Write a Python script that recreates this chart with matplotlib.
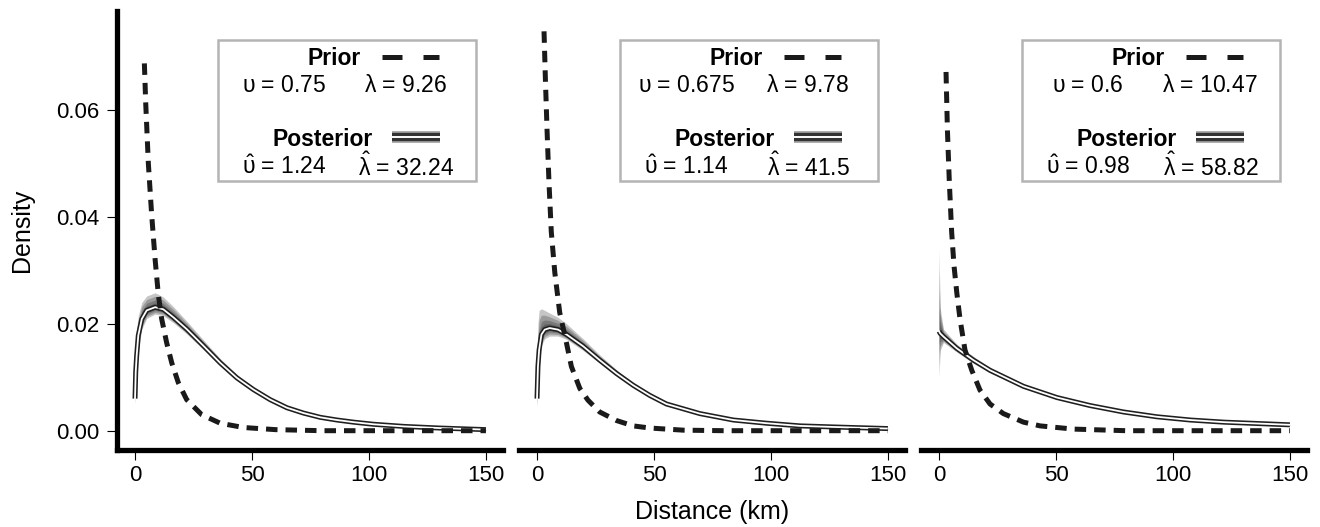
import matplotlib
matplotlib.use('Agg')
import matplotlib.pyplot as plt
from matplotlib.lines import Line2D
import numpy as np

plt.rcParams['font.family'] = ['Liberation Sans', 'DejaVu Sans']
plt.rcParams['mathtext.default'] = 'regular'

# ---- values ----
# prior densities (dashed)
prior1_x = [4.0, 4.6, 5.7, 7.1, 8.6, 10.0, 11.4, 13.5, 15.7, 18.5, 22.1, 28.5, 36.4, 46.3, 60, 80, 100, 125, 150]
prior1_y = [0.0687, 0.0610, 0.0500, 0.0405, 0.0320, 0.0253, 0.0209, 0.0165, 0.0127, 0.0090, 0.0058, 0.0030,
            0.0014, 0.0006, 0.0002, 0.0, 0.0, 0.0, 0.0]
prior2_x = [3.0, 3.6, 4.3, 5.1, 6.1, 7.6, 9.7, 12.6, 14.7, 18.3, 21.8, 26.8, 34, 41.1, 48.2, 62.5, 80, 100, 125, 150]
prior2_y = [0.0747, 0.0655, 0.0561, 0.0466, 0.0372, 0.0296, 0.0221, 0.0164, 0.0120, 0.0079, 0.0057, 0.0035,
            0.0019, 0.0009, 0.0005, 0.0001, 0.0, 0.0, 0.0, 0.0]
prior3_x = [3.0, 3.6, 4.4, 5.4, 6.4, 7.6, 9.0, 11.1, 14.0, 17.5, 21.8, 27.5, 36.1, 43.2, 57.5, 80, 100, 125, 150]
prior3_y = [0.0671, 0.0561, 0.0466, 0.0372, 0.0309, 0.0258, 0.0208, 0.0151, 0.0113, 0.0076, 0.0050, 0.0032,
            0.0016, 0.0009, 0.0003, 0.0, 0.0, 0.0, 0.0]

# posterior mean curves (white line) and spread of the posterior draws
post1_x = [0, 0.3, 0.7, 1.4, 2.9, 5.0, 8.6, 12.1, 16.4, 22.1, 29.2, 36.4, 43.5, 50.6, 57.8, 64.9, 72.0, 79.2,
           86.3, 93.4, 102, 115, 130, 150]
post1_y = [0.0060, 0.0110, 0.0140, 0.0178, 0.0209, 0.0225, 0.0231, 0.0227, 0.0212, 0.0190, 0.0159, 0.0127,
           0.0099, 0.0077, 0.0058, 0.0043, 0.0033, 0.0025, 0.0020, 0.0016, 0.0012, 0.0008, 0.0005, 0.0002]
post1_hi = [0.0100, 0.0150, 0.0190, 0.0215, 0.0240, 0.0252, 0.0258, 0.0250, 0.0232, 0.0205, 0.0170, 0.0135,
            0.0105, 0.0081, 0.0061, 0.0045, 0.0034, 0.0026, 0.0021, 0.0017, 0.0013, 0.0009, 0.0006, 0.0003]
post1_lo = [0.0050, 0.0080, 0.0110, 0.0150, 0.0190, 0.0210, 0.0218, 0.0215, 0.0202, 0.0181, 0.0152, 0.0121,
            0.0094, 0.0073, 0.0055, 0.0041, 0.0032, 0.0024, 0.0019, 0.0015, 0.0011, 0.0007, 0.0004, 0.0001]

post2_x = [0, 0.4, 0.9, 1.9, 3.3, 5.4, 9.0, 12.6, 19.7, 26.8, 34, 41.1, 48.2, 55.3, 69.6, 83.9, 98.1, 112.4,
           126.7, 150]
post2_y = [0.0060, 0.0120, 0.0151, 0.0180, 0.0189, 0.0192, 0.0189, 0.0180, 0.0158, 0.0132, 0.0107, 0.0085,
           0.0066, 0.0050, 0.0032, 0.0020, 0.0014, 0.0009, 0.0007, 0.0004]
post2_hi = [0.0100, 0.0200, 0.0225, 0.0228, 0.0225, 0.0220, 0.0212, 0.0200, 0.0172, 0.0142, 0.0114, 0.0090,
            0.0069, 0.0052, 0.0033, 0.0021, 0.0015, 0.0010, 0.0008, 0.0005]
post2_lo = [0.0045, 0.0080, 0.0120, 0.0160, 0.0172, 0.0177, 0.0177, 0.0171, 0.0150, 0.0126, 0.0102, 0.0081,
            0.0063, 0.0048, 0.0031, 0.0019, 0.0013, 0.0008, 0.0006, 0.0003]

post3_x = [0, 0.5, 1.9, 7.6, 14.7, 21.8, 36.1, 50.4, 64.6, 78.9, 93.2, 107.4, 121.7, 150]
post3_y = [0.0186, 0.0182, 0.0176, 0.0154, 0.0132, 0.0113, 0.0083, 0.0062, 0.0047, 0.0035, 0.0026, 0.0020,
           0.0016, 0.0011]
post3_hi = [0.0340, 0.0230, 0.0190, 0.0162, 0.0139, 0.0118, 0.0087, 0.0065, 0.0049, 0.0036, 0.0027, 0.0021,
            0.0017, 0.0012]
post3_lo = [0.0100, 0.0150, 0.0165, 0.0147, 0.0126, 0.0108, 0.0080, 0.0059, 0.0045, 0.0034, 0.0025, 0.0019,
            0.0015, 0.0010]

# legend values
prior_shape = ['0.75', '0.675', '0.6']
prior_scale = ['9.26', '9.78', '10.47']
post_shape = ['1.24', '1.14', '0.98']
post_scale = ['32.24', '41.5', '58.82']

x_ticks = [0, 50, 100, 150]
y_ticks = [0.00, 0.02, 0.04, 0.06]

priors = [(prior1_x, prior1_y), (prior2_x, prior2_y), (prior3_x, prior3_y)]
posts = [(post1_x, post1_y, post1_lo, post1_hi),
         (post2_x, post2_y, post2_lo, post2_hi),
         (post3_x, post3_y, post3_lo, post3_hi)]

fig = plt.figure(figsize=(13.2, 5.27), dpi=100)

W, H = 1320.0, 527.0
ax_w = 386 / W
ax_b = (H - 450) / H
ax_h = (450 - 11) / H

for i in range(3):
    ax = fig.add_axes([(117 + 402 * i) / W, ax_b, ax_w, ax_h])
    px, py, plo, phi = [np.asarray(a) for a in posts[i]]
    prx, pry = priors[i]

    # posterior draws: soft band, darker towards the mean curve
    for f in [1.0, 0.75, 0.5, 0.3]:
        ax.fill_between(px, py + f * (plo - py), py + f * (phi - py), color='0.1', alpha=0.25, lw=0)
    ax.plot(px, py, color='0.12', lw=3.6, solid_capstyle='butt')
    ax.plot(px, py, color='white', lw=1.3)
    # prior
    ax.plot(prx, pry, color='0.1', lw=3.6, ls=(0, (2.3, 1.6)), dash_capstyle='butt')

    ax.set_xlim(-7.7, 157.3)
    ax.set_ylim(-0.00361, 0.0785)
    ax.set_xticks(x_ticks)
    ax.set_xticklabels([str(t) for t in x_ticks])
    for s in ['top', 'right']:
        ax.spines[s].set_visible(False)
    ax.spines['bottom'].set_linewidth(3.8)
    ax.tick_params(axis='x', direction='out', length=7.5, width=0.8, labelsize=16, pad=3)
    if i == 0:
        ax.spines['left'].set_linewidth(3.8)
        ax.set_yticks(y_ticks)
        ax.set_yticklabels(['%.2f' % t for t in y_ticks])
        ax.tick_params(axis='y', direction='out', length=7.5, width=0.8, labelsize=16, pad=5)
    else:
        ax.spines['left'].set_visible(False)
        ax.set_yticks([])

    # legend box
    box = plt.Rectangle((0.262, 0.613), 0.667, 0.322, transform=ax.transAxes,
                        fill=False, edgecolor='#b4b4b4', lw=1.8)
    ax.add_patch(box)
    ax.text(0.631, 0.878, 'Prior', transform=ax.transAxes, ha='right', va='baseline',
            fontsize=16.5, fontweight='bold')
    ax.add_line(Line2D([0.686, 0.738], [0.896, 0.896], transform=ax.transAxes,
                       color='0.1', lw=3.6, solid_capstyle='butt'))
    ax.add_line(Line2D([0.792, 0.833], [0.896, 0.896], transform=ax.transAxes,
                       color='0.1', lw=3.6, solid_capstyle='butt'))
    ax.text(0.433, 0.815, r'$\upsilon$ = ' + prior_shape[i], transform=ax.transAxes,
            ha='center', va='baseline', fontsize=16.5)
    ax.text(0.747, 0.815, r'$\lambda$ = ' + prior_scale[i], transform=ax.transAxes,
            ha='center', va='baseline', fontsize=16.5)

    ax.text(0.663, 0.693, 'Posterior', transform=ax.transAxes, ha='right', va='baseline',
            fontsize=16.5, fontweight='bold')
    for lw, c in [(8.5, '0.65'), (6.0, '0.2'), (1.4, 'white')]:
        ax.add_line(Line2D([0.712, 0.837], [0.712, 0.712], transform=ax.transAxes,
                           color=c, lw=lw, solid_capstyle='butt'))
    ax.text(0.433, 0.628, r'$\hat{\upsilon}$ = ' + post_shape[i], transform=ax.transAxes,
            ha='center', va='baseline', fontsize=16.5)
    ax.text(0.750, 0.624, r'$\hat{\lambda}$ = ' + post_scale[i], transform=ax.transAxes,
            ha='center', va='baseline', fontsize=16.5)

fig.text(712 / W, 0.015, 'Distance (km)', ha='center', va='baseline', fontsize=18)
fig.text(22 / W, (H - 230) / H, 'Density', ha='center', va='center', rotation=90, fontsize=18)

plt.savefig('out.png', dpi=100)
